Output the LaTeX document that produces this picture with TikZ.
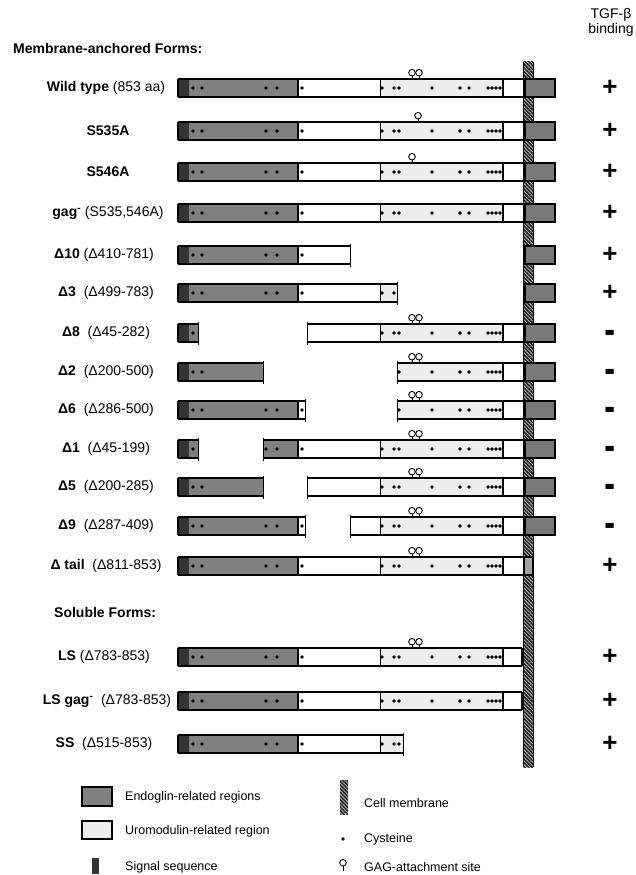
\documentclass[tikz,border=0pt]{standalone}
\usepackage{fontspec}
\setmainfont{Liberation Sans}
\usepackage{graphicx}
\usetikzlibrary{patterns.meta}
\tikzset{
  rim/.style={black, line width=1.6pt},
  cut/.style={black, line width=0.6pt},
  sep/.style={black, line width=1pt},
  gagmark/.style={black, line width=0.9pt},
  lbl/.style={font=\fontsize{14}{16}\selectfont, inner sep=1pt},
  head/.style={font=\fontsize{14}{16}\selectfont\bfseries, anchor=west, inner sep=1pt},
  legtext/.style={font=\fontsize{12.5}{15}\selectfont, anchor=west, inner sep=1pt},
  plus/.style={font=\fontsize{26}{28}\selectfont\bfseries, inner sep=0pt},
  minus/.style={font=\fontsize{23}{24}\selectfont\bfseries, inner sep=0pt, anchor=base},
  hatch/.style={pattern={Lines[angle=-45,distance=2.6pt,line width=1.5pt]}, pattern color=black!90}
}

\begin{document}
\begin{tikzpicture}[x=1pt,y=-1pt]

    % 色
    \definecolor{sigcol}{gray}{0.2}
    \definecolor{endocol}{gray}{0.5}
    \definecolor{uromcol}{gray}{0.93}
    \definecolor{tailcol}{gray}{0.47}

    % パラメータ
    \def\h{9}      % 棒の半分の高さ
    \def\xs{178}   % signal
    \def\xe{189}   % endoglin
    \def\xu{298}   % uromodulin 1
    \def\xv{380}   % uromodulin 2
    \def\xw{503}
    \def\xt{555}   % tail

    \useasboundingbox (0,0) rectangle (636,875);

    % 棒全体の中身
    \def\fullbar#1{
        \fill[sigcol]  (\xs,#1-\h) rectangle (\xe,#1+\h);
        \fill[endocol] (\xe,#1-\h) rectangle (\xu,#1+\h);
        \fill[uromcol] (\xv,#1-\h) rectangle (\xw,#1+\h);
        \draw[rim] (\xu,#1-\h) -- (\xu,#1+\h);
        \draw[rim] (\xw,#1-\h) -- (\xw,#1+\h);
        \draw[sep] (\xv,#1-\h) -- (\xv,#1+\h);
        \foreach \cx in {193,202,266,277,302,382,394,399,432,460,469,488,492,496,500} {
            \fill (\cx,#1) circle (1.8);
        }
    }
    % 一部分だけ
    \def\piece#1#2#3{
        \begin{scope}
            \clip (#2,#1-\h) rectangle (#3,#1+\h);
            \fullbar{#1}
        \end{scope}
        \draw[rim] (#2,#1-\h) -- (#3,#1-\h);
        \draw[rim] (#2,#1+\h) -- (#3,#1+\h);
    }
    \def\endcap#1#2{\draw[rim] (#2,#1-\h) -- (#2,#1+\h);}
    \def\cutend#1#2{\draw[cut] (#2,#1-11.5) -- (#2,#1+11.5);}
    \def\gag#1#2{
        \draw[gagmark] (#2,#1-\h) -- (#2,#1-\h-3);
        \draw[gagmark,fill=white] (#2,#1-\h-6.3) circle (3.3);
    }

    % 見出し
    \node[head] (memhead) at (12,48) {Membrane-anchored Forms:};
    \node[head] (solhead) at (53,612) {Soluble Forms:};
    \node[font=\fontsize{14}{15}\selectfont, align=center, inner sep=0pt]
        (tgfb) at (611,22) {TGF-β\\binding};

    % ラベル
    \node[lbl] (wt)    at (106,88)  {\textbf{Wild type} (853 aa)};
    \node[lbl] (s535a) at (108,131) {\textbf{S535A}};
    \node[lbl] (s546a) at (108,172) {\textbf{S546A}};
    \node[lbl] (gagm)  at (108,213) {\textbf{gag\textsuperscript{-}} (S535,546A)};
    \node[lbl] (d10)   at (104,255) {\textbf{Δ10} (Δ410-781)};
    \node[lbl] (d3)    at (106,293) {\textbf{Δ3}\ \ (Δ499-783)};
    \node[lbl] (d8)    at (106,333) {\textbf{Δ8}\ \ (Δ45-282)};
    \node[lbl] (d2)    at (106,372) {\textbf{Δ2}\ \ (Δ200-500)};
    \node[lbl] (d6)    at (106,410) {\textbf{Δ6}\ \ (Δ286-500)};
    \node[lbl] (d1)    at (106,449) {\textbf{Δ1}\ \ (Δ45-199)};
    \node[lbl] (d5)    at (106,487) {\textbf{Δ5}\ \ (Δ200-285)};
    \node[lbl] (d9)    at (106,526) {\textbf{Δ9}\ \ (Δ287-409)};
    \node[lbl] (dtail) at (106,566) {\textbf{Δ tail}\ \ (Δ811-853)};
    \node[lbl] (ls)    at (104,657) {\textbf{LS} (Δ783-853)};
    \node[lbl] (lsgag) at (107,701) {\textbf{LS gag\textsuperscript{-}}\ \ (Δ783-853)};
    \node[lbl] (ss)    at (104,744) {\textbf{SS}\ \ (Δ515-853)};

    % 完全な棒
    \foreach \y in {88,131,172,213} {
        \piece{\y}{\xs}{525} \endcap{\y}{\xs}
    }
    % 欠失体
    \piece{255}{\xs}{350} \endcap{255}{\xs} \cutend{255}{350}
    \piece{293}{\xs}{397} \endcap{293}{\xs} \cutend{293}{397}
    \piece{333}{\xs}{198} \endcap{333}{\xs} \cutend{333}{198}
    \piece{333}{307}{525} \cutend{333}{307}
    \piece{372}{\xs}{263} \endcap{372}{\xs} \cutend{372}{263}
    \piece{372}{397}{525} \cutend{372}{397}
    \piece{410}{\xs}{305} \endcap{410}{\xs} \cutend{410}{305}
    \piece{410}{397}{525} \cutend{410}{397}
    \piece{449}{\xs}{198} \endcap{449}{\xs} \cutend{449}{198}
    \piece{449}{263}{525} \cutend{449}{263}
    \piece{487}{\xs}{263} \endcap{487}{\xs} \cutend{487}{263}
    \piece{487}{307}{525} \cutend{487}{307}
    \piece{526}{\xs}{305} \endcap{526}{\xs} \cutend{526}{305}
    \piece{526}{350}{525} \cutend{526}{350}
    \piece{566}{\xs}{524} \endcap{566}{\xs}
    % 可溶型
    \piece{657}{\xs}{522} \endcap{657}{\xs} \endcap{657}{522}
    \piece{701}{\xs}{522} \endcap{701}{\xs} \endcap{701}{522}
    \piece{744}{\xs}{403} \endcap{744}{\xs} \cutend{744}{403}

    % GAG
    \foreach \y in {88,333,372,410,449,487,526,566,657} {
        \gag{\y}{419} \gag{\y}{412}
    }
    \gag{131}{418}
    \gag{172}{412}

    % 細胞膜
    \fill[black!25] (523,62) rectangle (533,767);
    \fill[hatch] (523,62) rectangle (533,767);
    \draw[black, line width=0.6pt] (523,62) -- (523,767) (533,62) -- (533,767);

    % 細胞質側
    \foreach \y in {88,131,172,213,255,293,333,372,410,449,487,526} {
        \draw[rim, fill=tailcol] (525,\y-\h) rectangle (\xt,\y+\h);
    }
    \draw[rim, fill=tailcol!70] (524,566-\h) rectangle (533,566+\h);

    % TGF-beta 結合
    \foreach \y in {88,131,172,213,255,293,566,657,701,744} {
        \node[plus] (p\y) at (610,\y) {+};
    }
    \foreach \y in {333,372,410,449,487,526} {
        \node[minus] (m\y) at (610,\y+13.4) {\scalebox{0.72}[2.2]{–}};
    }

    % 凡例
    \draw[rim, fill=endocol] (82,787) rectangle (112,806);
    \node[legtext] (legendo) at (124,797) {Endoglin-related regions};
    \draw[rim, fill=uromcol] (82,821) rectangle (112,839);
    \node[legtext] (leguro) at (124,831) {Uromodulin-related region};
    \fill[sigcol] (92,858) rectangle (99,874);
    \node[legtext] (legsig) at (124,867) {Signal sequence};
    \fill[black!25] (340,780) rectangle (348,814);
    \fill[hatch] (340,780) rectangle (348,814);
    \node[legtext] (legmem) at (363,803) {Cell membrane};
    \fill (343,839) circle (1.8);
    \node[legtext] (legcys) at (363,839) {Cysteine};
    \draw[gagmark] (343,871) -- (343,866);
    \draw[gagmark, fill=white] (343,862.7) circle (3.3);
    \node[legtext] (leggag) at (363,867) {GAG-attachment site};

\end{tikzpicture}
\end{document}
